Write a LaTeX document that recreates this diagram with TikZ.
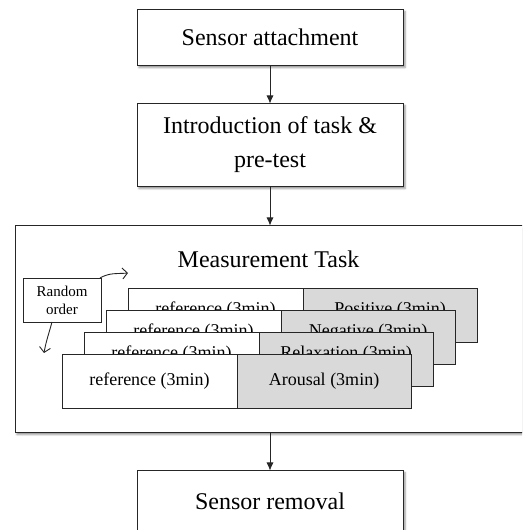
\documentclass[tikz,border=0pt]{standalone}
\usepackage{fontspec}
\setmainfont{Liberation Serif}
\usepackage{tikz}
\usetikzlibrary{arrows.meta, positioning, shadows.blur}
\definecolor{emogray}{RGB}{217,217,217}
\tikzset{
  x=1pt, y=1pt, % one unit is one pixel of the layout
  node distance=38pt, % gap between the boxes of the flow
  every node/.style={inner sep=0pt, outer sep=0pt},
  flowbox/.style={draw=black!85, line width=0.8pt, fill=white,
      minimum width=266pt, align=center,
      font=\fontsize{24}{34}\selectfont,
      blur shadow={shadow xshift=2pt, shadow yshift=-2pt,
          shadow blur radius=2pt, shadow opacity=45}}, % the main steps
  refbox/.style={draw=black!85, line width=0.8pt, fill=white,
      minimum width=175pt, minimum height=54pt,
      font=\fontsize{18}{20}\selectfont},
  emobox/.style={refbox, fill=emogray, minimum width=174pt},
  behind/.style={text depth=14pt}, % lifts the text of the hidden cards
  randbox/.style={draw=black!85, line width=0.8pt, fill=white,
      minimum width=78pt, minimum height=44pt, align=center,
      font=\fontsize{15}{18}\selectfont},
  flow/.style={-{Latex[length=8pt,width=7pt]}, line width=0.8pt, black!85},
  turn/.style={-{Straight Barb[length=5pt,width=11pt]}, line width=0.9pt, black!85},
}
\begin{document}
\begin{tikzpicture}
    \clip (0,0) rectangle (522,530);

    \node[flowbox, minimum height=56pt] (attach) at (270,492.5) {Sensor attachment};
    \node[flowbox, minimum height=83pt, below=of attach] (intro) {Introduction of task \&\\pre-test};
    \node[flowbox, minimum width=510pt, minimum height=207pt, below=39pt of intro] (meas) {};
    \node[flowbox, minimum height=62pt, below=of meas] (removal) {Sensor removal};

    \node[font=\fontsize{24}{28}\selectfont, anchor=base] (title) at (268.5,262) {Measurement Task};

    % the four cards, back to front
    \foreach \i/\task/\where in {0/Positive/behind, 1/Negative/behind, 2/Relaxation/behind, 3/Arousal/} {
        \node[refbox, \where] (ref\i) at ({215.5-22*\i},{215-22*\i}) {reference (3min)};
        \node[emobox, \where, right=0pt of ref\i] (emo\i) {\task\ (3min)};
    }

    \node[randbox] (rand) at (62,230) {Random\\order};
    \coordinate (cw) at (128,257);
    \coordinate (ccw) at (44,177);

    \draw[flow] (attach) -- (intro);
    \draw[flow] (intro) -- (intro.south |- meas.north);
    \draw[flow] (meas.south -| removal.north) -- (removal);
    \draw[turn] ([xshift=-1pt]rand.north east) to[out=30,in=185] (cw);
    \draw[turn] ([xshift=-10pt]rand.south) to[out=-105,in=80] (ccw);

  \end{tikzpicture}
\end{document}
